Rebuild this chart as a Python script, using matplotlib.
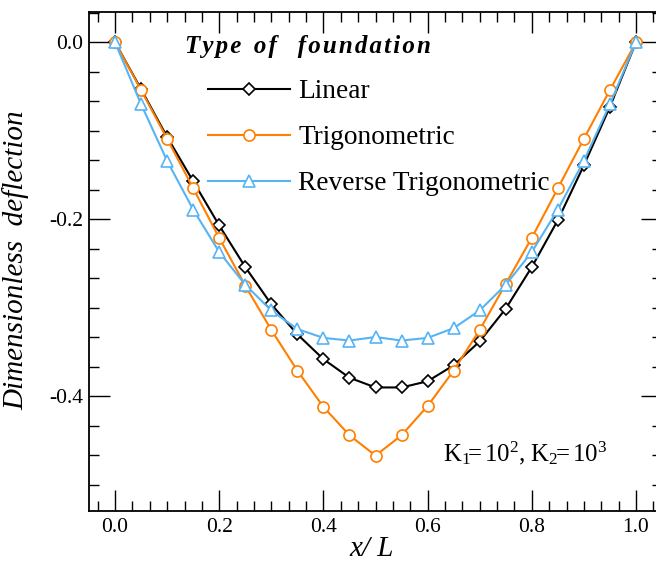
import matplotlib
matplotlib.use("Agg")
from matplotlib import pyplot as plt
from matplotlib.ticker import MultipleLocator, FormatStrFormatter

plt.rcParams["font.family"] = ["Liberation Serif", "DejaVu Serif"]
plt.rcParams["mathtext.fontset"] = "custom"
plt.rcParams["mathtext.rm"] = "Liberation Serif"
plt.rcParams["mathtext.it"] = "Liberation Serif:italic"

# nodal positions along the beam
x_over_l = [0.0, 0.05, 0.1, 0.15, 0.2, 0.25, 0.3, 0.35, 0.4, 0.45, 0.5,
            0.55, 0.6, 0.65, 0.7, 0.75, 0.8, 0.85, 0.9, 0.95, 1.0]

# dimensionless deflection per foundation type
linear = [0.0, -0.053, -0.107, -0.157, -0.207, -0.254, -0.296, -0.330, -0.358,
          -0.379, -0.390, -0.390, -0.383, -0.365, -0.338, -0.301, -0.254,
          -0.201, -0.139, -0.073, 0.0]
trigonometric = [0.0, -0.054, -0.109, -0.165, -0.221, -0.275, -0.325, -0.371,
                 -0.412, -0.444, -0.467, -0.444, -0.411, -0.371, -0.325, -0.273,
                 -0.221, -0.165, -0.109, -0.054, 0.0]
reverse_trig = [0.0, -0.070, -0.134, -0.189, -0.237, -0.274, -0.303, -0.324,
                -0.334, -0.337, -0.333, -0.337, -0.334, -0.323, -0.303, -0.274,
                -0.237, -0.189, -0.134, -0.070, 0.0]

labels = ["Linear", "Trigonometric", "Reverse Trigonometric"]
colors = ["black", "#ff7f00", "#56b4f4"]
markers = ["D", "o", "^"]
msizes = [6.5, 8, 8.5]

fig = plt.figure(figsize=(6.56, 5.63), dpi=100)
# axes runs a bit past the right edge of the canvas
ax = fig.add_axes([89 / 656, 52 / 563, (662 - 89) / 656, (511 - 12.3) / 563])

for y, lab, c, m, ms in zip([linear, trigonometric, reverse_trig], labels, colors, markers, msizes):
    ax.plot(x_over_l, y, color=c, lw=1.5, marker=m, ms=ms, mfc="white",
            mec=c, mew=1.2, label=lab)

ax.set_xlim(-0.05, 1.05)
ax.set_ylim(-0.5296, 0.0339)
ax.xaxis.set_major_locator(MultipleLocator(0.2))
ax.xaxis.set_minor_locator(MultipleLocator(0.2 / 6))
ax.yaxis.set_major_locator(MultipleLocator(0.2))
ax.yaxis.set_minor_locator(MultipleLocator(0.2 / 6))
ax.tick_params(which="both", direction="in", top=True, right=True, width=1.0,
               labelsize=15.5)
ax.tick_params(which="major", length=15, pad=5)
ax.tick_params(which="minor", length=7.5)
ax.tick_params(axis="y", which="major", pad=4)
ax.xaxis.set_major_formatter(FormatStrFormatter("%.1f"))
ax.yaxis.set_major_formatter(FormatStrFormatter("%.1f"))
for s in ax.spines.values():
    s.set_linewidth(1.3)

ax.set_xlabel("x/ L", fontsize=21, style="italic")
ax.xaxis.set_label_coords(283 / 573, -0.05)
ax.set_ylabel("Dimensionless  deflection", fontsize=21, style="italic")
ax.yaxis.set_label_coords(-60 / 573, 0.503)

hs = "\u200a"
title = "  ".join(hs.join(w) for w in ["Type", "of", " foundation"])
ax.text(96 / 573, 0.931, title, transform=ax.transAxes, fontsize=18,
        fontweight="bold", style="italic", ha="left", va="center")

ax.legend(loc="upper left", bbox_to_anchor=(119 / 573, 0.866), frameon=False,
          fontsize=19.7, handlelength=3.0, handletextpad=0.3, labelspacing=0.76,
          borderpad=0, borderaxespad=0)

ax.text(354 / 573, 0.116, r"K$_1\!$=$\,$10$^2$, K$_2\!$=$\,$10$^3$",
        transform=ax.transAxes, fontsize=17.8, ha="left", va="center")

fig.savefig("out.png", dpi=100)
